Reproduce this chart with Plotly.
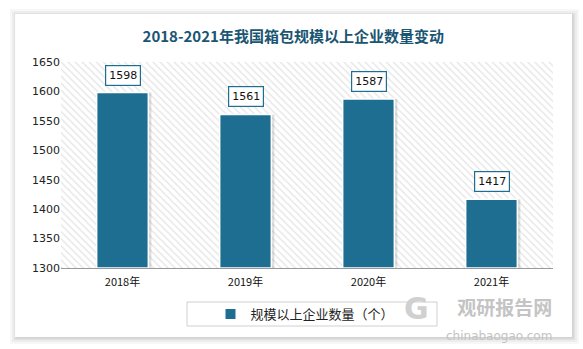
import plotly.graph_objects as go

categories = ["2018年", "2019年", "2020年", "2021年"]
values = [1598, 1561, 1587, 1417]
y_ticks = [1300, 1350, 1400, 1450, 1500, 1550, 1600, 1650]
title_text = "2018-2021年我国箱包规模以上企业数量变动"
series_name = "规模以上企业数量（个）"

BAR = "#1d6e91"
Y_MIN, Y_MAX = 1300, 1650

fig = go.Figure()

# hatched plot background
fig.add_trace(go.Bar(
    x=[0.5], y=[Y_MAX - Y_MIN], base=[Y_MIN], width=[1],
    xaxis="x", yaxis="y", showlegend=False, hoverinfo="skip",
    marker=dict(color="white", line=dict(width=0),
                pattern=dict(shape="\\", fgcolor="#cccccc", bgcolor="white",
                             size=5, solidity=0.28)),
))

# shadow bars
fig.add_trace(go.Bar(
    x=categories, y=[v - Y_MIN for v in values], base=[Y_MIN] * len(values),
    xaxis="x2", yaxis="y", showlegend=False, hoverinfo="skip",
    offset=-0.195, width=0.43,
    marker=dict(color="rgba(0,0,0,0.12)", line=dict(width=0)),
))

fig.add_trace(go.Bar(
    x=categories, y=[v - Y_MIN for v in values], base=[Y_MIN] * len(values),
    xaxis="x2", yaxis="y", name=series_name,
    width=0.42,
    marker=dict(color=BAR, line=dict(color="white", width=1.5)),
))

for c, v in zip(categories, values):
    fig.add_annotation(
        x=c, y=v, xref="x2", yref="y", text=str(v), showarrow=False,
        yanchor="bottom", yshift=7,
        font=dict(family="DejaVu Sans, Verdana, sans-serif", size=11, color="#111111"),
        bgcolor="white", bordercolor=BAR, borderwidth=1.2, borderpad=3,
    )

W, H = 583, 349
def px(x):
    return (x - 61) / (553 - 61)
def py(y):
    return (268 - y) / (268 - 62)

card_shapes = []
for k, op in [(7, 0.03), (5, 0.04), (3, 0.05), (1.5, 0.06)]:
    card_shapes.append(dict(type="rect", xref="paper", yref="paper", layer="below",
                            x0=px(15 - k + 2), x1=px(572 + k), y0=py(337 + k), y1=py(14 - k + 2),
                            line=dict(width=0), fillcolor=f"rgba(0,0,0,{op})"))
card_shapes.append(dict(type="rect", xref="paper", yref="paper", layer="below",
                        x0=px(15), x1=px(572), y0=py(337), y1=py(14),
                        line=dict(width=0), fillcolor="white"))
# legend box
card_shapes.append(dict(type="rect", xref="paper", yref="paper", layer="below",
                        x0=px(187), x1=px(437), y0=py(326), y1=py(302),
                        line=dict(width=1, color="#d0d0d0"), fillcolor="white"))

fig.update_layout(
    width=W, height=H,
    margin=dict(l=61, r=30, t=62, b=81),
    paper_bgcolor="white", plot_bgcolor="rgba(0,0,0,0)",
    shapes=card_shapes,
    barmode="overlay",
    title=dict(text="<b>" + title_text + "</b>", x=0.503, xanchor="center", y=0.895, yanchor="middle",
               font=dict(family="Noto Sans CJK SC", size=15, color="#1a5572")),
    xaxis=dict(range=[0, 1], visible=False, fixedrange=True),
    xaxis2=dict(overlaying="x", type="category", showline=True, linecolor="#999999", linewidth=1.2,
                ticks="", showgrid=False, side="bottom", ticklabelstandoff=4,
                tickfont=dict(family="Noto Sans CJK SC", size=11, color="#111111")),
    yaxis=dict(range=[Y_MIN, Y_MAX], tickvals=y_ticks, showgrid=False, zeroline=False,
               showline=False, ticks="",
               tickfont=dict(family="DejaVu Sans, Verdana, sans-serif", size=11, color="#222222")),
    legend=dict(orientation="h", x=px(305), xanchor="center", y=py(314), yanchor="middle",
                bgcolor="rgba(0,0,0,0)", itemsizing="constant",
                font=dict(family="Noto Sans CJK SC", size=13, color="#222222")),
    showlegend=True,
)

# watermark
fig.add_annotation(xref="paper", yref="paper", x=px(553), y=py(292), xanchor="right", yanchor="top",
                   align="right", borderpad=0,
                   text="<b>观研报告网</b><br><span style='font-size:12px;font-family:DejaVu Sans'>chinabaogao.com</span>",
                   showarrow=False,
                   font=dict(family="Noto Sans CJK SC", size=19, color="#c4c4c4"))
fig.add_annotation(xref="paper", yref="paper", x=px(416), y=py(308), xanchor="center", yanchor="middle",
                   text="<b>G</b>", showarrow=False,
                   font=dict(family="DejaVu Sans", size=30, color="#d0d0d0"))

fig.write_html("out.html")
